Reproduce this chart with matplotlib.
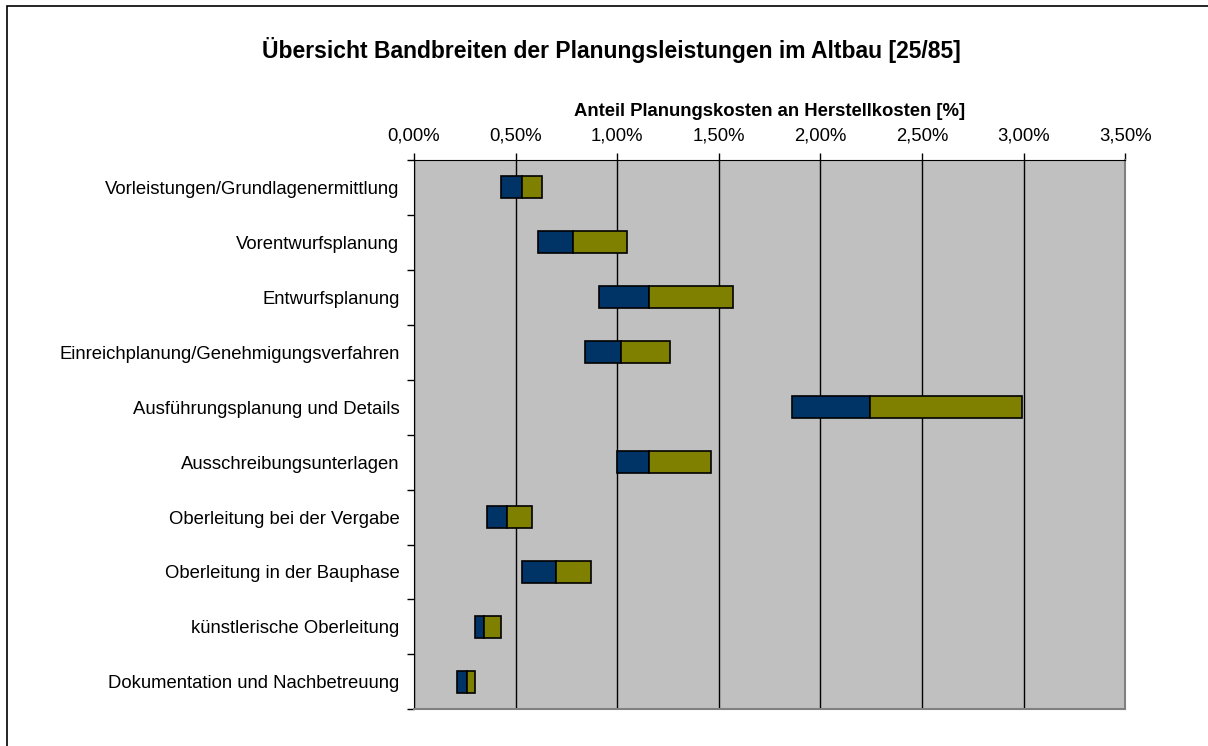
import numpy as np
import matplotlib.pyplot as plt
from matplotlib.ticker import FixedLocator, FuncFormatter
from matplotlib.patches import Rectangle

plt.rcParams['font.family'] = ['Liberation Sans', 'DejaVu Sans']

# Daten (Anteil in %)
leistungen = [
    "Vorleistungen/Grundlagenermittlung",
    "Vorentwurfsplanung",
    "Entwurfsplanung",
    "Einreichplanung/Genehmigungsverfahren",
    "Ausführungsplanung und Details",
    "Ausschreibungsunterlagen",
    "Oberleitung bei der Vergabe",
    "Oberleitung in der Bauphase",
    "künstlerische Oberleitung",
    "Dokumentation und Nachbetreuung",
]
minimum = [0.43, 0.61, 0.91, 0.84, 1.86, 1.00, 0.36, 0.53, 0.30, 0.21]
mittel = [0.53, 0.78, 1.155, 1.02, 2.245, 1.155, 0.46, 0.70, 0.345, 0.26]
maximum = [0.63, 1.05, 1.57, 1.26, 2.99, 1.46, 0.58, 0.87, 0.43, 0.30]
x_ticks = [0, 0.5, 1.0, 1.5, 2.0, 2.5, 3.0, 3.5]

blau = "#003366"
oliv = "#808000"

fig = plt.figure(figsize=(12.08, 7.46), dpi=100)
ax = fig.add_axes([414/1208, 1-709.3/746, (1125.3-414)/1208, (709.3-160)/746])
ax.set_facecolor("#c0c0c0")

y = np.arange(len(leistungen))
mn = np.array(minimum)
mi = np.array(mittel)
mx = np.array(maximum)
ax.barh(y, mi-mn, left=mn, height=0.4, color=blau, edgecolor="black", linewidth=1.2, zorder=3)
ax.barh(y, mx-mi, left=mi, height=0.4, color=oliv, edgecolor="black", linewidth=1.2, zorder=3)

ax.set_xlim(0, 3.5)
ax.set_ylim(len(leistungen)-0.5, -0.5)

ax.xaxis.tick_top()
ax.xaxis.set_label_position("top")
ax.set_xticks(x_ticks)
ax.xaxis.set_major_formatter(FuncFormatter(lambda v, p: f"{v:.2f}%".replace(".", ",")))
ax.tick_params(axis="x", length=5, width=1, pad=6.5, labelsize=13.3)
ax.grid(axis="x", color="black", linewidth=1, zorder=1)
ax.set_xlabel("Anteil Planungskosten an Herstellkosten [%]", fontsize=13.3,
              fontweight="bold", labelpad=8)

ax.set_yticks(y)
ax.set_yticklabels(leistungen, fontsize=13.3)
ax.yaxis.set_minor_locator(FixedLocator(np.arange(-0.5, len(leistungen), 1)))
ax.tick_params(axis="y", which="major", length=0, pad=10.5)
ax.tick_params(axis="y", which="minor", length=5, width=1)

for s in ["left", "top"]:
    ax.spines[s].set_color("black")
for s in ["right", "bottom"]:
    ax.spines[s].set_color("#808080")
    ax.spines[s].set_linewidth(1.5)

fig.text(611/1208, 1-50/746, "Übersicht Bandbreiten der Planungsleistungen im Altbau [25/85]",
         ha="center", va="center", fontsize=16.5, fontweight="bold")

fig.patches.append(Rectangle((7/1208, -0.1), 1.2, 1-6/746+0.1, transform=fig.transFigure,
                             fill=False, edgecolor="black", linewidth=1.2))

fig.savefig("out.png", dpi=100)
